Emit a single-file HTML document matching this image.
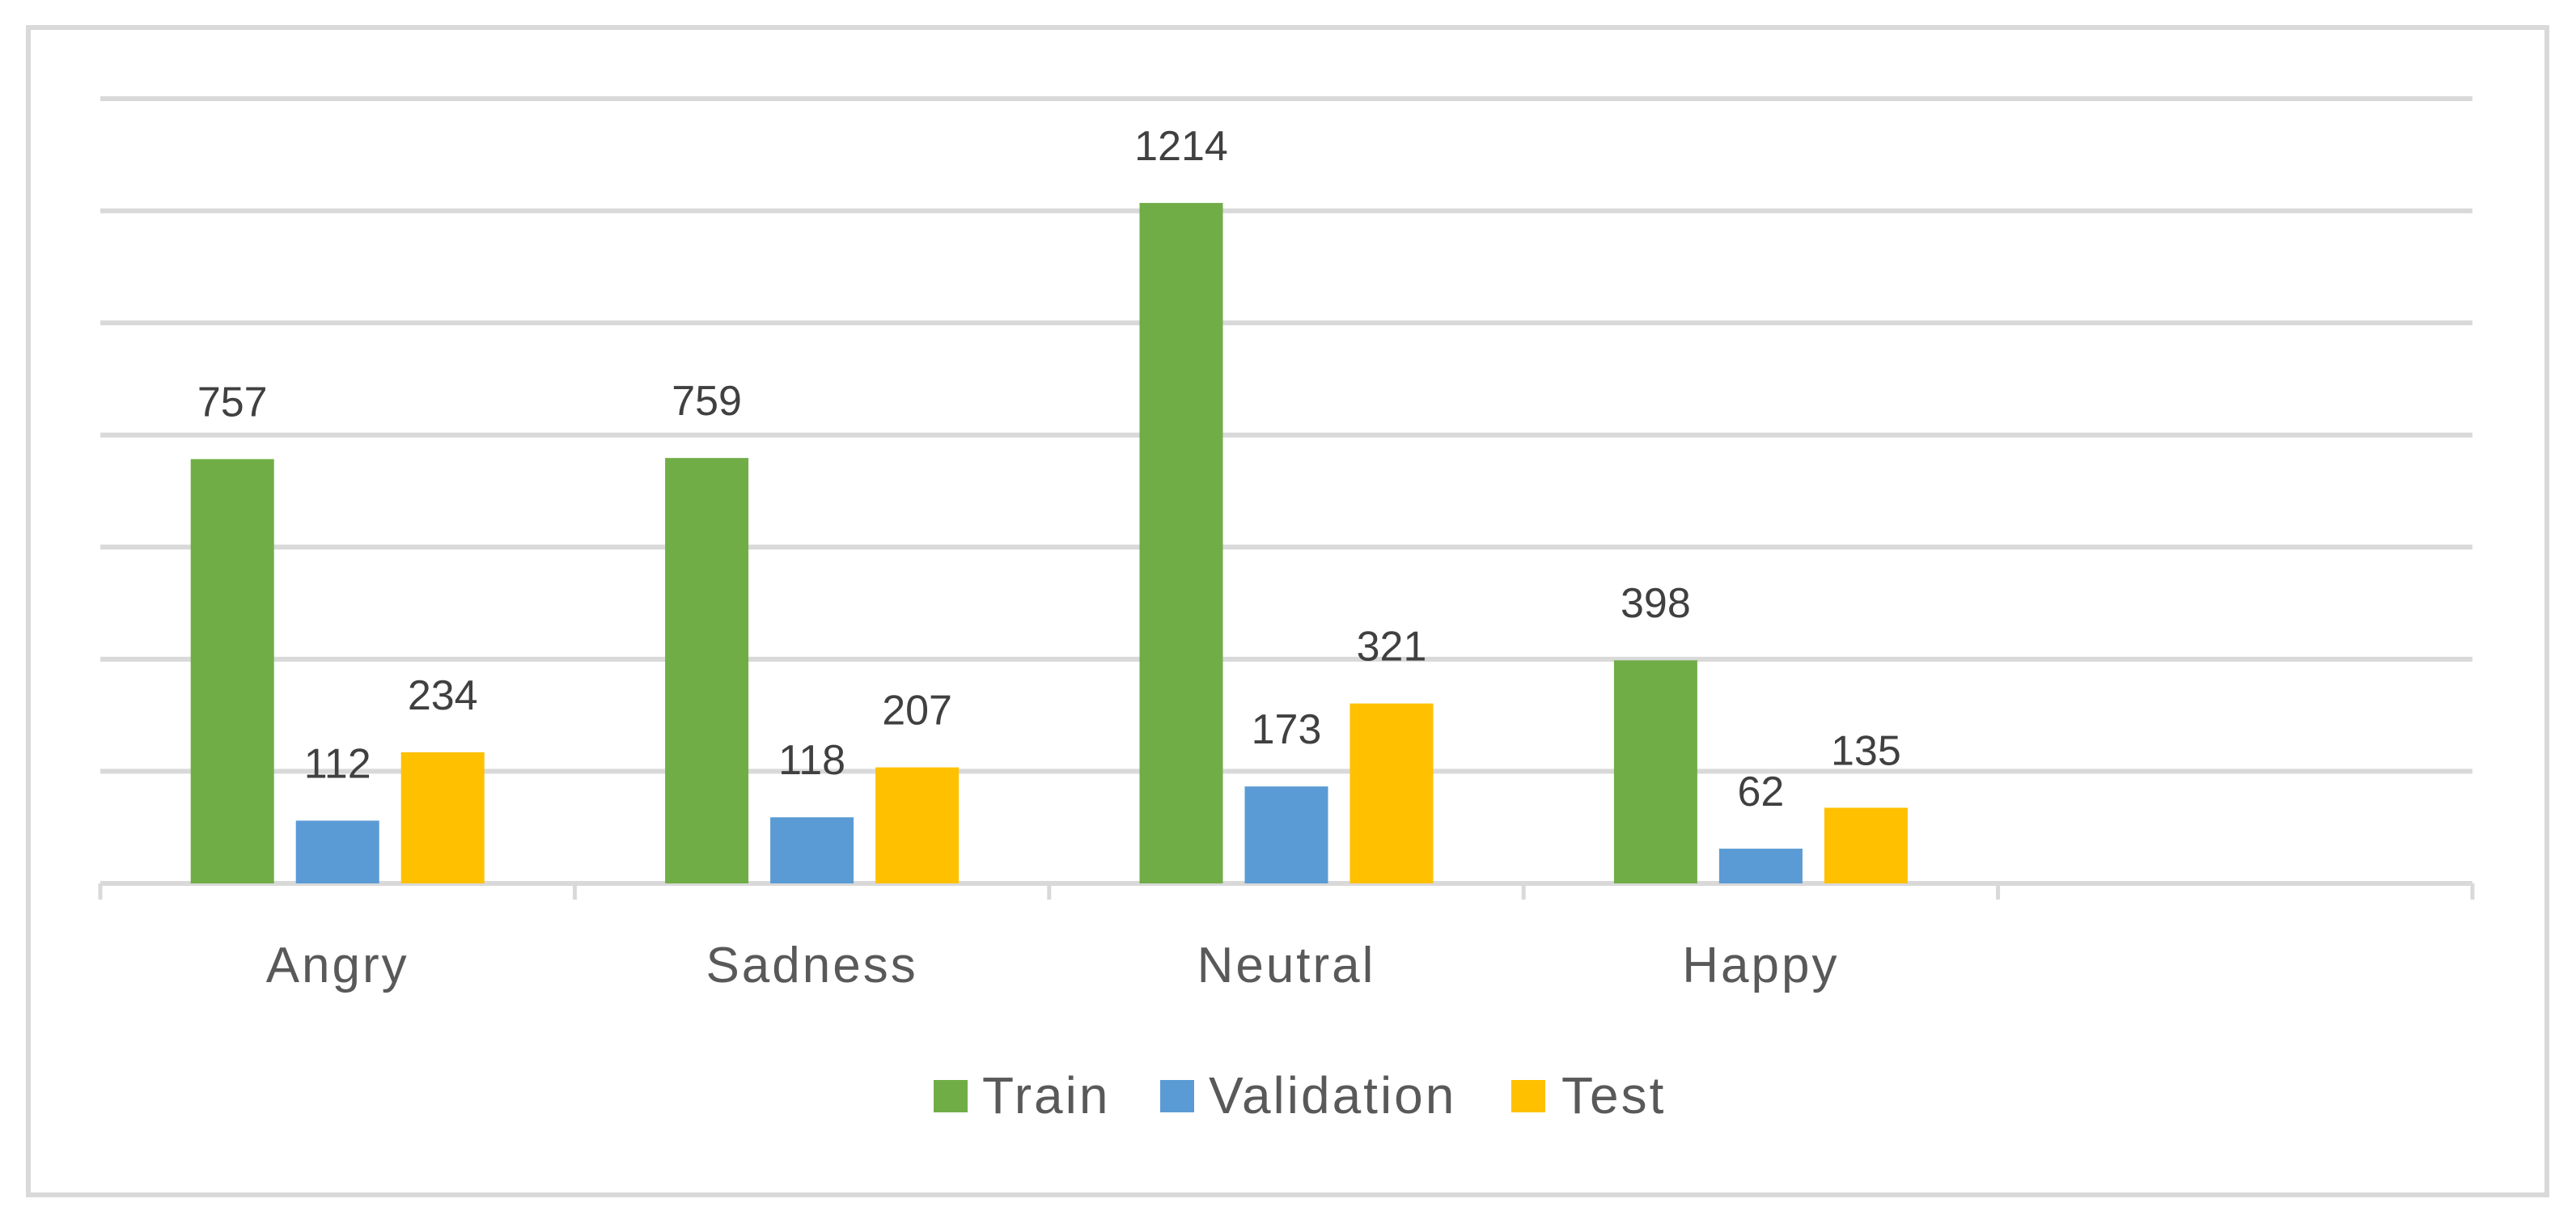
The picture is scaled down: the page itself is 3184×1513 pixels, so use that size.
<!DOCTYPE html>
<html><head><meta charset="utf-8"><style>
html,body{margin:0;padding:0;background:#fff;}
svg{display:block;}
text{font-family:"Liberation Sans",sans-serif;}
</style></head><body>
<svg id="chart" width="3184" height="1513" viewBox="0 0 3184 1513" xmlns="http://www.w3.org/2000/svg">
<rect x="35" y="34" width="3113" height="1443" fill="#fff" stroke="#d9d9d9" stroke-width="6"/>
<g id="grid"></g><g id="bars"></g><g id="labels"></g><g id="legend"></g>
</svg>
<script>
const categories = ["Angry","Sadness","Neutral","Happy",""];
const seriesNames = ["Train","Validation","Test"];
const trainValues = [757,759,1214,398];
const validationValues = [112,118,173,62];
const testValues = [234,207,321,135];
const yTicks = [0,200,400,600,800,1000,1200,1400];
const colors = ["#70ad47","#5b9bd5","#ffc000"];
const series = [trainValues, validationValues, testValues];

const NS="http://www.w3.org/2000/svg";
const x0=124, x1=3056, y0=1092, yTop=122, yMax=1400;
const catW=(x1-x0)/categories.length;
const barW=103, gap=27;
function y(v){return y0-(v/yMax)*(y0-yTop);}
function catX(i){return x0+catW*i;}
function mk(tag,attrs,parent){const e=document.createElementNS(NS,tag);for(const k in attrs)e.setAttribute(k,attrs[k]);parent.appendChild(e);return e;}
const grid=document.getElementById('grid'),bars=document.getElementById('bars'),labels=document.getElementById('labels'),legend=document.getElementById('legend');
yTicks.forEach((t,i)=>{
  if(t===0)return;
  const l=mk('line',{x1:x0,x2:x1,y1:y(t),y2:y(t),stroke:'#d9d9d9','stroke-width':6},grid);
  
  
});
const ax=mk('line',{x1:x0,x2:x1,y1:y0,y2:y0,stroke:'#d9d9d9','stroke-width':6},grid);


for(let i=0;i<=categories.length;i++){
  const tk=mk('line',{x1:catX(i),x2:catX(i),y1:y0,y2:y0+20,stroke:'#d9d9d9','stroke-width':5},grid);
  
  
}
categories.forEach((c,i)=>{
  const cx=catX(i)+catW/2;
  if(c){
    const t=mk('text',{x:cx,y:1214,'text-anchor':'middle','font-size':62,'letter-spacing':3,fill:'#595959'},labels);
    t.textContent=c;
    
    
  }
  const start=cx-(3*barW+2*gap)/2;
  series.forEach((vals,s)=>{
    if(i>=vals.length)return;
    const v=vals[i];
    const bx=start+s*(barW+gap);
    const r=mk('rect',{x:bx,y:y(v),width:barW,height:y0-y(v),fill:colors[s]},bars);
    
    
    const lt=mk('text',{x:bx+barW/2,y:y(v)-53,'text-anchor':'middle','font-size':52,fill:'#404040'},labels);
    lt.textContent=v;
    
    
  });
});
const legX=[1154,1434,1868];
seriesNames.forEach((n,s)=>{
  const g=mk('g',{},legend);
  
  
  mk('rect',{x:legX[s],y:1335,width:42,height:40,fill:colors[s]},g);
  const t=mk('text',{x:legX[s]+(s===0?60:(s===1?60:62)),y:1376,'font-size':64,'letter-spacing':3,fill:'#595959'},g);
  t.textContent=n;
});
</script>
</body></html>
